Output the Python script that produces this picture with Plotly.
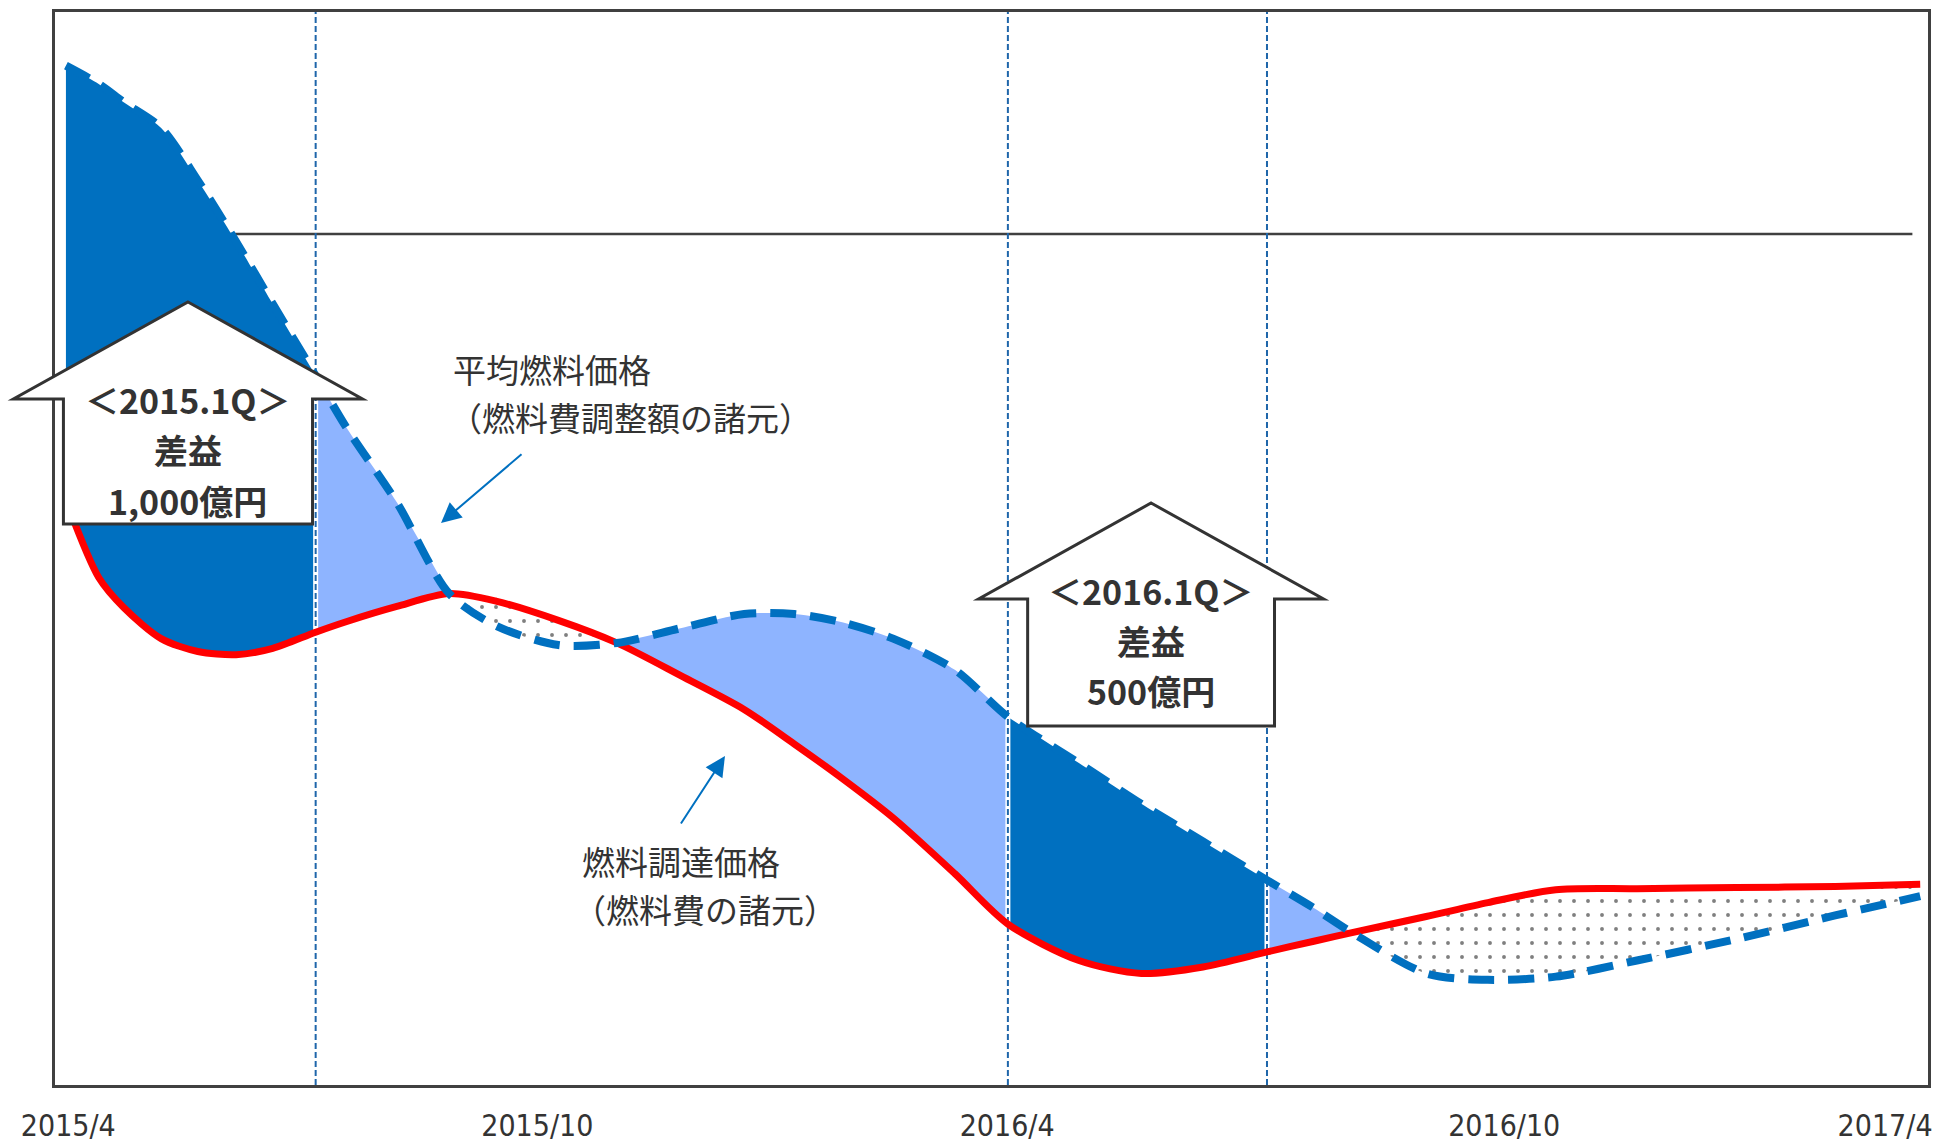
import plotly.graph_objects as go

# ---------------- data ----------------
# x in months since 2015/4, y in an arbitrary price index (0-100)
months = [0.14, 0.56, 0.88, 1.36, 1.83, 2.32, 2.79, 3.34, 3.74, 4.38,
          5.05, 5.65, 6.45, 7.20, 8.03, 8.83, 9.47, 10.10, 10.74, 11.53,
          12.21, 13.12, 13.92, 14.71, 15.53, 16.13, 16.62, 17.57, 18.36, 19.23,
          20.27, 21.54, 22.81, 23.90]

# 燃料調達価格 (red, solid)
procurement_price = [54.5, 47.3, 44.5, 41.6, 40.4, 40.1, 40.7, 42.2, 43.2, 44.6,
                     45.8, 45.1, 43.3, 41.2, 38.1, 35.0, 31.8, 28.5, 24.9, 19.7,
                     15.0, 11.6, 10.4, 11.0, 12.4, 13.4, 14.2, 15.7, 17.0, 18.2,
                     18.3, 18.4, 18.5, 18.7]

# 平均燃料価格 (blue, dashed)
average_price = [95.0, 93.3, 91.6, 89.2, 84.3, 78.6, 72.8, 66.1, 61.2, 54.3,
                 45.8, 42.8, 41.0, 41.2, 42.6, 43.9, 43.9, 43.1, 41.6, 38.7,
                 34.3, 30.0, 26.2, 22.7, 19.1, 16.5, 14.2, 10.4, 9.8, 10.1,
                 11.6, 13.6, 15.8, 17.6]

quarter_lines = [3.34, 12.21, 15.53]          # dotted vertical separators
highlight_quarters = [(0.0, 3.34), (12.21, 15.53)]
reference_level = 79.3                        # thin horizontal line
reference_start = 2.0
reference_end = 23.8

tick_pos = [0.17, 6.18, 12.2, 18.57, 23.45]
tick_text = ["2015/4", "2015/10", "2016/4", "2016/10", "2017/4"]

callout_lines = [["＜2015.1Q＞", "差益", "1,000億円"],
                 ["＜2016.1Q＞", "差益", "500億円"]]
label_avg = ["平均燃料価格", "（燃料費調整額の諸元）"]
label_proc = ["燃料調達価格", "（燃料費の諸元）"]

# ---------------- styles ----------------
DARK = "#0070C0"
LIGHT = "#8EB4FF"
RED = "#FF0000"
TXT = "#333333"
FONT = "Noto Sans CJK JP"
TICK_FONT = "DejaVu Sans Condensed, DejaVu Sans"

fig = go.Figure()

# ---- segment fills between the two curves ----
bounds = [0]
for i in range(1, len(months) - 1):
    if months[i] in quarter_lines or abs(procurement_price[i] - average_price[i]) < 1e-9:
        bounds.append(i)
bounds.append(len(months) - 1)

for a, b in zip(bounds[:-1], bounds[1:]):
    xs = months[a:b + 1]
    red_seg = procurement_price[a:b + 1]
    blue_seg = average_price[a:b + 1]
    above = sum(blue_seg) > sum(red_seg)
    mid = (xs[0] + xs[-1]) / 2
    in_hl = any(lo <= mid <= hi for lo, hi in highlight_quarters)
    fig.add_trace(go.Scatter(x=xs, y=red_seg, mode="lines",
                             line=dict(width=0, shape="spline", smoothing=0.8,
                                       color="rgba(0,0,0,0)"),
                             hoverinfo="skip", showlegend=False))
    if above:
        fig.add_trace(go.Scatter(x=xs, y=blue_seg, mode="lines",
                                 line=dict(width=0, shape="spline", smoothing=0.8,
                                           color="rgba(0,0,0,0)"),
                                 fill="tonexty", fillcolor=DARK if in_hl else LIGHT,
                                 hoverinfo="skip", showlegend=False))
    else:
        fig.add_trace(go.Scatter(x=xs, y=blue_seg, mode="lines",
                                 line=dict(width=0, shape="spline", smoothing=0.8,
                                           color="rgba(0,0,0,0)"),
                                 fill="tonexty", fillcolor="white",
                                 fillpattern=dict(shape=".", fgcolor="#000000", bgcolor="white",
                                                  size=14, solidity=0.06),
                                 hoverinfo="skip", showlegend=False))

# white separators where the fill changes colour at quarter boundaries
for q in quarter_lines:
    i = months.index(q)
    fig.add_trace(go.Scatter(x=[q, q], y=[procurement_price[i], average_price[i]], mode="lines",
                             line=dict(color="white", width=5), hoverinfo="skip", showlegend=False))

# dotted vertical quarter lines
vx, vy = [], []
for q in quarter_lines:
    vx += [q, q, None]
    vy += [0, 100, None]
fig.add_trace(go.Scatter(x=vx, y=vy, mode="lines",
                         line=dict(color="#1F66AA", width=2, dash="6px,3px"),
                         hoverinfo="skip", showlegend=False))

# red procurement price line
fig.add_trace(go.Scatter(x=months, y=procurement_price, mode="lines",
                         line=dict(color=RED, width=7, shape="spline", smoothing=0.8),
                         name="燃料調達価格", showlegend=False))
# blue dashed average price line
fig.add_trace(go.Scatter(x=months, y=average_price, mode="lines",
                         line=dict(color=DARK, width=8, shape="spline", smoothing=0.8,
                                   dash="26px,14px"),
                         name="平均燃料価格", showlegend=False))

# horizontal reference line (behind the fills)
fig.add_shape(type="line", xref="x", yref="y", x0=reference_start, x1=reference_end,
              y0=reference_level, y1=reference_level,
              line=dict(color="#404040", width=2.5), layer="below")

# ---- up-arrow callouts (paper coordinates) ----
def house(cx, apex_y, wing_y, bottom_y, half_wing, half_shaft):
    return (f"M {cx},{apex_y} L {cx + half_wing},{wing_y} L {cx + half_shaft},{wing_y} "
            f"L {cx + half_shaft},{bottom_y} L {cx - half_shaft},{bottom_y} "
            f"L {cx - half_shaft},{wing_y} L {cx - half_wing},{wing_y} Z")

callouts = [
    dict(cx=0.0710, apex=0.7297, wing=0.6393, bottom=0.5228, hw=0.0932, hs=0.0665,
         ty=[0.6393, 0.5918, 0.5443]),
    dict(cx=0.5852, apex=0.5424, wing=0.4529, bottom=0.3346, hw=0.0921, hs=0.0659,
         ty=[0.4613, 0.4147, 0.3681]),
]
for c, lines in zip(callouts, callout_lines):
    fig.add_shape(type="path", xref="paper", yref="paper",
                  path=house(c["cx"], c["apex"], c["wing"], c["bottom"], c["hw"], c["hs"]),
                  fillcolor="white", line=dict(color=TXT, width=3), layer="above")
    for t, ty in zip(lines, c["ty"]):
        fig.add_annotation(xref="paper", yref="paper", x=c["cx"], y=ty, text=t,
                           showarrow=False, xanchor="center", yanchor="middle",
                           font=dict(family=FONT, size=34, color=TXT, weight=700))

# ---- text labels with arrows ----
for t, (lx, ly) in zip(label_avg, [(0.2653, 0.6673), (0.3070, 0.6225)]):
    fig.add_annotation(xref="paper", yref="paper", x=lx, y=ly, text=t, showarrow=False,
                       xanchor="center", yanchor="middle",
                       font=dict(family=FONT, size=33, color=TXT))
for t, (lx, ly) in zip(label_proc, [(0.3342, 0.2088), (0.3470, 0.1640)]):
    fig.add_annotation(xref="paper", yref="paper", x=lx, y=ly, text=t, showarrow=False,
                       xanchor="center", yanchor="middle",
                       font=dict(family=FONT, size=33, color=TXT))
fig.add_annotation(xref="paper", yref="paper", x=0.2061, y=0.5238, ax=82, ay=-70, text="",
                   showarrow=True, arrowhead=2, arrowsize=2, arrowwidth=2, arrowcolor=DARK)
fig.add_annotation(xref="paper", yref="paper", x=0.3577, y=0.3066, ax=-45, ay=69, text="",
                   showarrow=True, arrowhead=2, arrowsize=2, arrowwidth=2, arrowcolor=DARK)

fig.update_layout(
    width=1944, height=1144,
    margin=dict(l=55, r=16, t=12, b=59, autoexpand=False),
    paper_bgcolor="white", plot_bgcolor="white",
    showlegend=False,
    xaxis=dict(range=[0, 24], tickvals=tick_pos, ticktext=tick_text, automargin=False,
               ticks="outside", ticklen=12, tickcolor="rgba(0,0,0,0)",
               ticklabeloverflow="allow",
               tickfont=dict(family=TICK_FONT, size=30, color=TXT),
               showgrid=False, zeroline=False,
               showline=True, mirror=True, linecolor="#404040", linewidth=3),
    yaxis=dict(range=[0, 100], showticklabels=False, ticks="", automargin=False,
               showgrid=False, zeroline=False,
               showline=True, mirror=True, linecolor="#404040", linewidth=3),
)

# remove the page's default 8px body margin so the figure fills the window exactly
fig.write_html("out.html", config={"displayModeBar": False},
               post_script="document.body.style.margin='0';document.body.style.overflow='hidden';")
